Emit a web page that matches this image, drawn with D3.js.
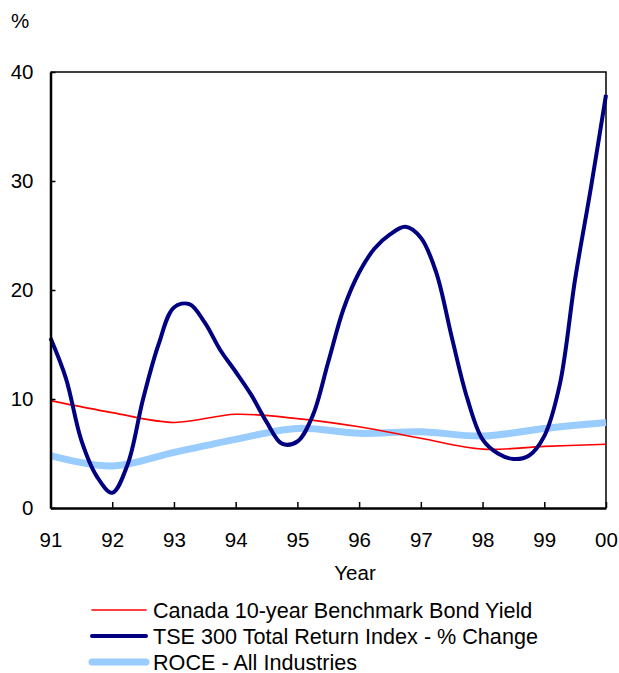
<!DOCTYPE html>
<html>
<head>
<meta charset="utf-8">
<script src="https://cdn.jsdelivr.net/npm/d3@7/dist/d3.min.js"></script>
<style>
  html, body { margin: 0; padding: 0; background: #fff; }
  svg text { font-family: "Liberation Sans", Arial, sans-serif; fill: #000; }
</style>
</head>
<body>
<svg id="chart" width="619" height="673"></svg>
<script>
// Annual observations
const years = [1991, 1992, 1993, 1994, 1995, 1996, 1997, 1998, 1999, 2000];
const yearLabels = ["91", "92", "93", "94", "95", "96", "97", "98", "99", "00"];
const bondYield = [9.85, 8.75, 7.85, 8.6, 8.2, 7.45, 6.4, 5.4, 5.65, 5.85];
const roce = [4.8, 3.85, 5.1, 6.3, 7.3, 6.85, 7.0, 6.6, 7.3, 7.85];

// Quarterly TSE 300 total return, % change
const tseTime = [
  1991.00, 1991.25, 1991.50, 1991.75,
  1992.00, 1992.25, 1992.50, 1992.75,
  1993.00, 1993.25, 1993.50, 1993.75,
  1994.00, 1994.25, 1994.50, 1994.75,
  1995.00, 1995.25, 1995.50, 1995.75,
  1996.00, 1996.25, 1996.50, 1996.75,
  1997.00, 1997.25, 1997.50, 1997.75,
  1998.00, 1998.25, 1998.50, 1998.75,
  1999.00, 1999.25, 1999.50, 1999.75,
  2000.00
];
const tseChange = [
  15.6, 11.9, 6.2, 2.9,
  1.4, 4.0, 10.0, 15.0,
  18.4, 18.7, 17.0, 14.5,
  12.5, 10.4, 7.9, 5.9,
  6.1, 8.5, 13.4, 18.3,
  21.6, 23.8, 25.1, 25.8,
  24.8, 21.6, 15.7, 10.1,
  6.3, 5.0, 4.5, 4.8,
  6.6, 11.3, 21.0, 29.2,
  37.9
];
const yTicks = [0, 10, 20, 30, 40];

const legendItems = [
  { label: "Canada 10-year Benchmark Bond Yield", color: "#ff0000", width: 1.6 },
  { label: "TSE 300 Total Return Index - % Change", color: "#000080", width: 4 },
  { label: "ROCE - All Industries", color: "#99ccff", width: 7 }
];

const svg = d3.select("#chart");
const plot = { left: 50.5, right: 606, top: 72, bottom: 508 };

const x = d3.scaleLinear().domain([1991, 2000]).range([plot.left, plot.right]);
const y = d3.scaleLinear().domain([0, 40]).range([plot.bottom, plot.top]);

// Frame (top and right edges)
svg.append("path")
  .attr("d", `M${plot.left},${plot.top}H${plot.right}V${plot.bottom}`)
  .attr("fill", "none").attr("stroke", "#000").attr("stroke-width", 1.5);

const smooth = d3.curveCatmullRom.alpha(0.5);

// ROCE
svg.append("path")
  .datum(years.map((t, i) => [t, roce[i]]))
  .attr("fill", "none").attr("stroke", "#99ccff").attr("stroke-width", 7)
  .attr("stroke-linejoin", "round")
  .attr("d", d3.line().x(d => x(d[0])).y(d => y(d[1])).curve(smooth));

// Bond yield
svg.append("path")
  .datum(years.map((t, i) => [t, bondYield[i]]))
  .attr("fill", "none").attr("stroke", "#ff0000").attr("stroke-width", 1.6)
  .attr("d", d3.line().x(d => x(d[0])).y(d => y(d[1])).curve(smooth));

// TSE 300
svg.append("path")
  .datum(tseTime.map((t, i) => [t, tseChange[i]]))
  .attr("fill", "none").attr("stroke", "#000080").attr("stroke-width", 4)
  .attr("stroke-linejoin", "round")
  .attr("d", d3.line().x(d => x(d[0])).y(d => y(d[1])).curve(smooth));

// Axes
const yAxis = svg.append("g")
  .attr("transform", `translate(${plot.left},0)`)
  .call(d3.axisLeft(y).tickValues(yTicks).tickSize(-5).tickPadding(17).tickSizeOuter(0));
const xAxis = svg.append("g")
  .attr("transform", `translate(0,${plot.bottom})`)
  .call(d3.axisBottom(x).tickValues(years).tickFormat((d, i) => yearLabels[i])
    .tickSize(-6).tickPadding(24).tickSizeOuter(0));

[yAxis, xAxis].forEach(g => {
  g.select(".domain").attr("stroke", "#000").attr("stroke-width", 2.5);
  g.selectAll(".tick line").attr("stroke", "#000").attr("stroke-width", 1.5);
  g.selectAll(".tick text").attr("font-size", 20.5)
    .attr("font-family", "'Liberation Sans', Arial, sans-serif").attr("fill", "#000");
});

// Unit and axis title
svg.append("text").attr("x", 11).attr("y", 28).attr("font-size", 20.5).text("%");
svg.append("text").attr("x", 355).attr("y", 580).attr("text-anchor", "middle")
  .attr("font-size", 20.5).text("Year");

// Legend
const legend = svg.append("g");
legendItems.forEach((item, i) => {
  const cy = 610 + i * 26;
  legend.append("line")
    .attr("x1", 92).attr("x2", 146).attr("y1", cy).attr("y2", cy)
    .attr("stroke", item.color).attr("stroke-width", item.width)
    .attr("stroke-linecap", "round");
  legend.append("text")
    .attr("x", 153).attr("y", cy + 7.5).attr("font-size", 21.6).text(item.label);
});
</script>
</body>
</html>
